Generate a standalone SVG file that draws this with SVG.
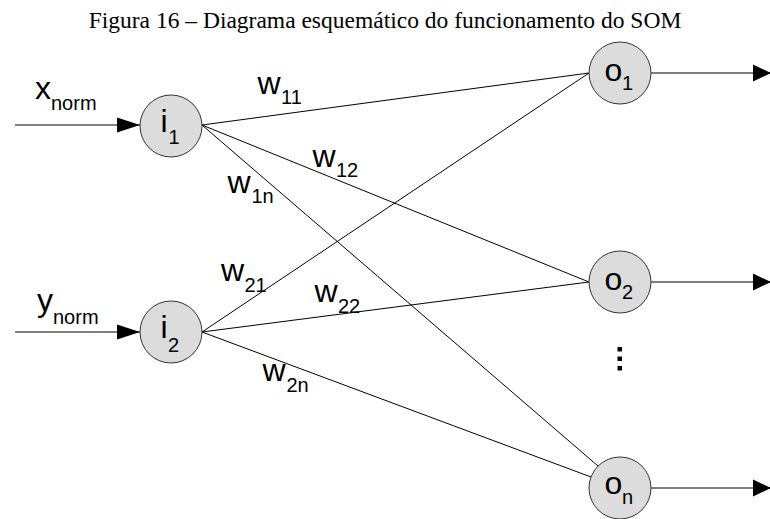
<svg xmlns="http://www.w3.org/2000/svg" width="770" height="519" viewBox="0 0 770 519">
<defs>
<marker id="arrIn" markerUnits="userSpaceOnUse" markerWidth="23" markerHeight="16" refX="23" refY="8" orient="auto" overflow="visible">
<path d="M0,0.5 L23,8 L0,15.5 Z" fill="#000"/>
</marker>
<marker id="arrOut" markerUnits="userSpaceOnUse" markerWidth="18" markerHeight="17" refX="18" refY="8.5" orient="auto" overflow="visible">
<path d="M0,0 L18,8.5 L0,17 Z" fill="#000"/>
</marker>
</defs>
<style>
.title{font-family:"Liberation Serif","Times New Roman",serif;font-size:23.5px;fill:#000}
.lbl{font-family:"Liberation Sans",Arial,sans-serif;font-size:32px;fill:#000}
.sub{font-size:20px}
.node{fill:#dcdcdc;stroke:#333;stroke-width:1}
.edge{stroke:#000;stroke-width:1;fill:none}
.in{marker-end:url(#arrIn)}
.out{marker-end:url(#arrOut)}
</style>
<rect width="770" height="519" fill="#fff"/>
<text class="title" x="385" y="28" text-anchor="middle">Figura 16 – Diagrama esquemático do funcionamento do SOM</text>
<g id="connectors">
<line class="edge in" x1="15" y1="125" x2="140" y2="125"/>
<line class="edge in" x1="15" y1="332" x2="140" y2="332"/>
<line class="edge out" x1="651" y1="73" x2="771" y2="73"/>
<line class="edge out" x1="651" y1="282" x2="771" y2="282"/>
<line class="edge out" x1="651" y1="488" x2="771" y2="488"/>
<line class="edge" x1="202" y1="125" x2="589" y2="73"/>
<line class="edge" x1="202" y1="125" x2="589" y2="282"/>
<line class="edge" x1="202" y1="125" x2="598" y2="466"/>
<line class="edge" x1="202" y1="332" x2="589" y2="73"/>
<line class="edge" x1="202" y1="332" x2="589" y2="282"/>
<line class="edge" x1="202" y1="332" x2="591" y2="477"/>
</g>
<g id="labels">
<text class="lbl" x="35" y="99">x<tspan class="sub" x="51" y="110">norm</tspan></text>
<text class="lbl" x="37" y="311">y<tspan class="sub" x="53" y="324">norm</tspan></text>
<text class="lbl" x="257.5" y="94">w<tspan class="sub" x="281" y="104">11</tspan></text>
<text class="lbl" x="312.5" y="167">w<tspan class="sub" x="336" y="177">12</tspan></text>
<text class="lbl" x="227.5" y="193">w<tspan class="sub" x="251.5" y="203">1n</tspan></text>
<text class="lbl" x="221" y="281">w<tspan class="sub" x="244.5" y="292">21</tspan></text>
<text class="lbl" x="314.5" y="302">w<tspan class="sub" x="338" y="313">22</tspan></text>
<text class="lbl" x="262.5" y="381">w<tspan class="sub" x="286.5" y="392">2n</tspan></text>
</g>
<g id="i1">
<circle class="node" cx="171" cy="126" r="31"/>
<text class="lbl" x="160.5" y="131.5">i<tspan class="sub" x="168.5" y="144">1</tspan></text>
</g>
<g id="i2">
<circle class="node" cx="171" cy="332" r="31"/>
<text class="lbl" x="160.5" y="338">i<tspan class="sub" x="168" y="352">2</tspan></text>
</g>
<g id="o1">
<circle class="node" cx="620" cy="73" r="31"/>
<text class="lbl" x="604.5" y="81">o<tspan class="sub" x="622" y="90">1</tspan></text>
</g>
<g id="o2">
<circle class="node" cx="620" cy="282" r="31"/>
<text class="lbl" x="604.5" y="290">o<tspan class="sub" x="622" y="299">2</tspan></text>
</g>
<g id="on">
<circle class="node" cx="620" cy="488" r="31"/>
<text class="lbl" x="604.5" y="494">o<tspan class="sub" x="622" y="504">n</tspan></text>
</g>
<g id="ellipsis">
<rect x="617.5" y="347" width="4.5" height="4.5" fill="#000"/>
<rect x="617.5" y="356.5" width="4.5" height="4.5" fill="#000"/>
<rect x="617.5" y="366" width="4.5" height="4.5" fill="#000"/>
</g>
</svg>
